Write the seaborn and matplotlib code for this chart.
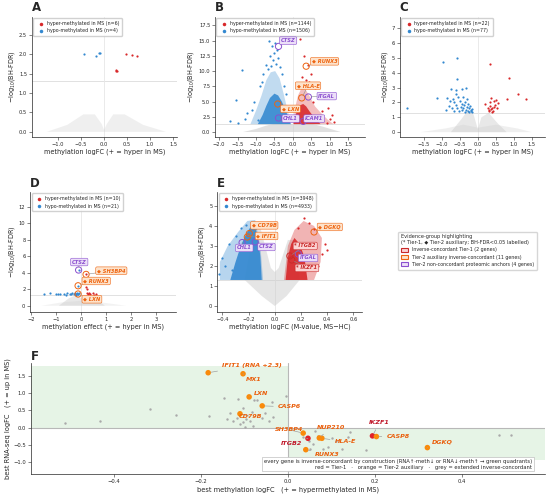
import matplotlib
matplotlib.use('Agg')
import matplotlib.pyplot as plt
from matplotlib.patches import Patch
import pandas as pd
import seaborn as sns

# ---------------- panel A ----------------
A_hyper_x = [0.48, 0.61, 0.72, 0.26, 0.28, 0.27]
A_hyper_y = [2.00, 1.98, 1.96, 1.57, 1.57, 1.58]
A_hypo_x = [-0.43, -0.17, -0.09, -0.10]
A_hypo_y = [2.00, 1.96, 2.03, 2.02]
A_grey_x = [-1.25, -0.8, -0.45, -0.2, -0.05, 0.0, 0.06, 0.2, 0.45, 0.85, 1.35]
A_grey_y = [0.0, 0.18, 0.45, 0.45, 0.2, 0.05, 0.2, 0.45, 0.45, 0.18, 0.0]

# ---------------- panel B ----------------
B_grey_x = [-1.35, -1.0, -0.75, -0.55, -0.3, -0.1, 0.0, 0.1, 0.3, 0.55, 0.8, 1.05, 1.3]
B_grey_y = [0.0, 0.5, 1.0, 1.3, 1.45, 1.45, 1.2, 1.45, 1.45, 1.3, 0.9, 0.45, 0.0]
B_hypo_core_x = [-0.95, -0.82, -0.72, -0.62, -0.5, -0.4, -0.3, -0.2, -0.12, -0.06]
B_hypo_core_y = [1.3, 2.8, 4.3, 5.6, 6.3, 6.0, 5.0, 3.6, 2.4, 1.3]
B_hypo_halo_x = [-1.15, -1.0, -0.85, -0.72, -0.6, -0.48, -0.36, -0.26, -0.16, -0.05]
B_hypo_halo_y = [1.3, 3.5, 6.0, 8.5, 9.8, 10.0, 8.8, 6.5, 4.0, 1.3]
B_hyper_core_x = [0.02, 0.06, 0.12, 0.2, 0.28, 0.36, 0.45, 0.55, 0.65, 0.75]
B_hyper_core_y = [1.3, 2.5, 3.6, 4.4, 4.6, 4.2, 3.4, 2.6, 1.9, 1.3]
B_hyper_halo_x = [0.0, 0.06, 0.14, 0.24, 0.34, 0.46, 0.6, 0.78, 0.95, 1.1]
B_hyper_halo_y = [1.3, 4.0, 6.0, 7.3, 7.0, 5.8, 4.2, 3.0, 2.0, 1.3]
B_hypo_x = [-1.7, -1.53, -1.38, -1.25, -1.12, -0.95, -1.05, -0.9, -0.8, -0.72, -0.66, -0.57, -0.48,
            -0.62, -0.55, -0.5, -0.45, -0.4, -0.35, -0.3, -0.68, -0.58, -0.42, -0.25, -0.2, -0.85, -1.3, -1.5]
B_hypo_y = [1.74, 5.3, 10.2, 3.1, 3.6, 2.0, 5.0, 7.5, 9.5, 11.0, 14.9, 14.1, 14.6,
            12.5, 11.8, 12.9, 11.2, 12.2, 10.6, 9.5, 10.4, 10.8, 13.5, 7.6, 6.3, 8.2, 2.2, 1.5]
B_hyper_x = [0.2, 0.3, 0.4, 0.5, 0.45, 0.6, 0.7, 0.85, 0.95, 1.05, 0.92, 1.12, 0.25, 0.15, 0.35, 0.55, 0.8, 1.0]
B_hyper_y = [15.2, 12.5, 11.0, 9.5, 8.2, 7.2, 6.0, 5.6, 4.0, 2.8, 1.5, 1.6, 9.0, 8.0, 8.6, 5.0, 3.4, 2.2]
B_genes = ['CTSZ', 'RUNX3', 'HLA-E', 'ITGAL', 'LXN', 'CHL1', 'ICAM1']
B_gene_x = [-0.39, 0.36, 0.24, 0.42, -0.41, -0.39, 0.28]
B_gene_y = [14.05, 10.8, 5.6, 5.75, 4.6, 2.3, 1.75]
B_groups = ['anchor', 'tier2', 'tier2', 'anchor', 'tier2', 'anchor', 'anchor']

# ---------------- panel C ----------------
C_grey_wide_x = [-1.6, -0.9, -0.4, 0.0, 0.5, 1.1, 1.5]
C_grey_wide_y = [0.0, 0.25, 0.5, 0.3, 0.5, 0.25, 0.0]
C_grey_x = [-0.75, -0.45, -0.3, -0.12, 0.0, 0.1, 0.3, 0.55, 0.8]
C_grey_y = [0.0, 0.9, 1.4, 1.2, 0.2, 1.0, 1.3, 0.6, 0.0]
C_hypo_x = [-1.97, -0.97, -0.59, -0.57, -1.13, -0.75, -0.62, -0.45, -0.33, -0.85, -0.78, -0.7, -0.65,
            -0.6, -0.55, -0.5, -0.48, -0.45, -0.42, -0.4, -0.38, -0.35, -0.33, -0.3, -0.28, -0.27, -0.25,
            -0.22, -0.2, -0.18, -0.16, -0.15, -0.72, -0.8, -0.88, -0.66, -0.52, -0.44, -0.36, -0.3, -0.24,
            -0.58, -0.62]
C_hypo_y = [1.62, 4.75, 5.02, 3.59, 2.29, 2.9, 2.85, 2.9, 2.95, 2.3, 2.1, 2.25, 2.0,
            1.85, 2.35, 2.1, 1.7, 1.9, 2.4, 1.6, 1.8, 2.0, 1.5, 1.7, 1.9, 1.45, 1.6,
            1.75, 1.5, 1.4, 1.55, 1.35, 1.6, 1.75, 1.5, 1.45, 1.4, 1.5, 1.38, 2.25, 1.35,
            1.65, 2.6]
C_hyper_x = [0.35, 0.86, 1.12, 1.33, 0.8, 0.2, 0.3, 0.33, 0.35, 0.38, 0.4, 0.42, 0.45, 0.48, 0.5,
             0.52, 0.3, 0.4, 0.36, 0.44, 0.55, 0.28]
C_hyper_y = [4.57, 3.67, 2.55, 2.24, 2.24, 1.9, 1.5, 1.75, 2.0, 2.3, 1.6, 1.45, 2.1, 1.85, 2.2,
             1.6, 1.4, 1.35, 1.55, 1.7, 1.95, 1.62]

# ---------------- panel D ----------------
D_grey_wide_x = [-1.6, -0.8, 0.0, 0.8, 1.8]
D_grey_wide_y = [0.0, 0.4, 0.6, 0.4, 0.0]
D_grey_x = [-0.9, -0.5, -0.2, 0.0, 0.25, 0.55, 0.95]
D_grey_y = [0.0, 0.9, 1.3, 0.9, 1.3, 0.9, 0.0]
D_hypo_x = [-1.5, -1.25, -1.0, -0.85, -0.7, -0.57, -0.45, -0.37, -0.3, -0.25, -0.2, -0.16, -0.13,
            -0.1, -0.11, -0.13, -0.13, -0.6, -0.95, -0.4, -0.22]
D_hypo_y = [1.45, 1.5, 1.42, 1.48, 1.4, 1.52, 1.45, 1.5, 1.38, 1.55, 1.45, 1.5, 1.42,
            1.6, 4.33, 2.42, 1.42, 1.35, 1.38, 1.4, 1.36]
D_hyper_x = [0.2, 0.23, 0.19, 0.25, 0.35, 0.45, 0.3, 0.6, 0.5, 0.22]
D_hyper_y = [2.3, 2.0, 3.8, 1.45, 1.4, 1.5, 1.6, 1.38, 1.35, 1.5]
D_genes = ['CTSZ', 'SH3BP4', 'RUNX3', 'LXN']
D_gene_x = [-0.11, 0.19, -0.13, -0.13]
D_gene_y = [4.33, 3.8, 2.42, 1.42]
D_groups = ['anchor', 'tier2', 'tier2', 'tier2']

# ---------------- panel E ----------------
E_grey_x = [0.0, -0.1, -0.23, -0.16, -0.11, -0.03, 0.0, 0.03, 0.1, 0.15, 0.19, 0.09, 0.0]
E_grey_y = [0.0, 0.5, 1.3, 3.9, 3.9, 1.9, 1.7, 1.9, 3.3, 3.3, 1.3, 0.5, 0.0]
E_hypo_core_x = [-0.34, -0.30, -0.26, -0.22, -0.18, -0.16, -0.13, -0.11, -0.10]
E_hypo_core_y = [1.3, 2.2, 3.0, 3.6, 4.0, 4.2, 3.45, 2.45, 1.3]
E_hypo_halo_x = [-0.42, -0.42, -0.36, -0.28, -0.21, -0.15, -0.11, -0.09]
E_hypo_halo_y = [1.3, 2.2, 3.0, 3.7, 4.25, 4.3, 3.0, 1.3]
E_hyper_core_x = [0.083, 0.10, 0.125, 0.15, 0.19, 0.226, 0.25]
E_hyper_core_y = [1.3, 2.45, 3.1, 3.4, 3.1, 2.45, 1.3]
E_hyper_halo_x = [0.07, 0.1, 0.15, 0.22, 0.3, 0.36, 0.35, 0.3]
E_hyper_halo_y = [1.3, 3.0, 3.8, 4.25, 4.0, 3.4, 2.2, 1.3]
E_hypo_x = [-0.43, -0.4, -0.38, -0.35, -0.3, -0.26, -0.22, -0.33]
E_hypo_y = [1.6, 2.4, 2.0, 3.1, 3.5, 3.9, 4.05, 1.8]
E_hyper_x = [0.22, 0.26, 0.3, 0.38, 0.36, 0.33, 0.4, 0.18]
E_hyper_y = [4.4, 4.15, 3.85, 3.1, 2.6, 2.0, 2.8, 3.9]
E_genes = ['CD79B', 'IFIT1', 'CHL1', 'CTSZ', 'DGKQ', 'ITGB2', 'ITGAL', 'IKZF1']
E_gene_x = [-0.195, -0.21, -0.25, -0.15, 0.30, 0.115, 0.18, 0.13]
E_gene_y = [3.62, 3.45, 3.17, 3.2, 3.7, 2.5, 2.6, 2.3]
E_groups = ['tier2', 'tier2', 'anchor', 'anchor', 'tier2', 'tier1', 'anchor', 'tier1']

# ---------------- panel F ----------------
F_names = ['IFIT1 (RNA +2.3)', 'MX1', 'LXN', 'CASP6', 'CD79B', 'SH3BP4', 'NUP210', 'HLA-E',
           'RUNX3', 'ITGB2', 'IKZF1', 'CASP8', 'DGKQ']
F_meth = [-0.183, -0.103, -0.089, -0.059, -0.11, 0.035, 0.072, 0.078, 0.041, 0.046, 0.194, 0.203, 0.32]
F_rna = [1.59, 1.56, 0.89, 0.63, 0.40, -0.16, -0.30, -0.31, -0.64, -0.31, -0.24, -0.26, -0.58]
F_tier = ['Tier-2', 'Tier-2', 'Tier-2', 'Tier-2', 'Tier-2', 'Tier-2', 'Tier-2', 'Tier-2',
          'Tier-2', 'Tier-1', 'Tier-1', 'Tier-2', 'Tier-2']
F_ext_meth = [-0.511, -0.432, -0.317, -0.256, -0.181, -0.146, -0.114, -0.078, -0.072, -0.102, -0.133,
              -0.140, -0.125, -0.117, -0.110, -0.104, -0.096, -0.087, -0.098, -0.079, -0.060, -0.053,
              -0.043, -0.037, -0.034, -0.083, -0.005,
              0.035, 0.049, 0.058, 0.069, 0.081, 0.092, 0.10, 0.111, 0.123, 0.142, 0.138, 0.18, 0.05,
              0.062, 0.485, 0.511]
F_ext_rna = [0.12, 0.20, 0.53, 0.36, 0.33, 0.87, 0.84, 0.80, 0.80, 0.58, 0.41,
             0.25, 0.18, 0.28, 0.10, 0.17, 0.25, 0.20, 0.03, 0.06, 0.28, 0.42,
             0.20, 0.73, 0.31, 0.46, 0.92,
             -0.26, -0.38, -0.47, -0.23, -0.62, -0.57, -0.30, -0.38, -0.62, -0.12, -0.28, -0.65, -0.62,
             -0.11, -0.21, -0.21]

# ---------------- styles ----------------
RED = '#d8282a'
BLUE = '#3388d0'
GREY = '#cccccc'
STYLE = {
    'tier1': ('#c92a2a', '#fbd3d3', '* '),
    'tier2': ('#ee6410', '#fde3cc', '\u25c6 '),
    'anchor': ('#8a4fcf', '#ecdff8', ''),
}

sns.set_style('ticks')
plt.rcParams['font.family'] = ['DejaVu Sans']
plt.rcParams['axes.linewidth'] = 0.5

fig = plt.figure(figsize=(5.5, 4.96), dpi=100)


def volcano(ax, letter, greys, clouds, hyper, hypo, n_hyper, n_hypo,
            xlabel, xlim, ylim, xticks, yticks):
    for gx, gy, a in greys:
        ax.fill(gx, gy, color=GREY, alpha=a, lw=0, zorder=1)
    for cx, cy, col, a in clouds:
        ax.fill(cx, cy, color=col, alpha=a, lw=0, zorder=2)
    sns.scatterplot(x=hyper[0], y=hyper[1], color=RED, s=2.5, linewidth=0, ax=ax, zorder=3,
                    label=f'hyper-methylated in MS (n={n_hyper})')
    sns.scatterplot(x=hypo[0], y=hypo[1], color=BLUE, s=2.5, linewidth=0, ax=ax, zorder=3,
                    label=f'hypo-methylated in MS (n={n_hypo})')
    ax.axhline(1.301, color='#dcdcdc', lw=0.6, zorder=0)
    ax.axvline(0, color='#e6e6e6', lw=0.6, zorder=0)
    ax.set_xlim(xlim)
    ax.set_ylim(ylim)
    ax.set_xticks(xticks)
    ax.set_yticks(yticks)
    ax.tick_params(labelsize=3.7, length=2, width=0.4, pad=1.5)
    ax.set_xlabel(xlabel, fontsize=4.7, labelpad=1.5)
    ax.set_ylabel('\u2212log$_{10}$(BH-FDR)', fontsize=4.7, labelpad=1.5)
    ax.legend(loc='upper left', fontsize=3.4, markerscale=1.6, handletextpad=0.2,
              borderpad=0.6, labelspacing=0.5, borderaxespad=0.3, framealpha=0.9, edgecolor='#cccccc')
    ax.text(0.0, 1.02, letter, transform=ax.transAxes, fontsize=8.5, fontweight='bold',
            ha='left', va='bottom')
    sns.despine(ax=ax)


def label_genes(ax, genes, xs, ys, groups, label_xy):
    for g, x, y, grp, (lx, ly) in zip(genes, xs, ys, groups, label_xy):
        col, fc, mark = STYLE[grp]
        ax.scatter([x], [y], s=20, facecolors='none', edgecolors=col, linewidths=0.7, zorder=6)
        ax.annotate(mark + g, xy=(x, y), xytext=(lx, ly), fontsize=3.7, fontweight='bold',
                    fontstyle='italic', color=col, ha='left', va='center', zorder=7,
                    bbox=dict(boxstyle='round,pad=0.25', fc=fc, ec=col, lw=0.4),
                    arrowprops=dict(arrowstyle='-', color='#8c8c8c', lw=0.4, shrinkA=0, shrinkB=2))


axA = fig.add_axes([0.058, 0.724, 0.264, 0.242])
axB = fig.add_axes([0.391, 0.724, 0.273, 0.242])
axC = fig.add_axes([0.727, 0.724, 0.264, 0.242])
axD = fig.add_axes([0.055, 0.371, 0.265, 0.242])
axE = fig.add_axes([0.395, 0.371, 0.264, 0.242])
axF = fig.add_axes([0.056, 0.044, 0.935, 0.224])

volcano(axA, 'A', [(A_grey_x, A_grey_y, 0.3)], [],
        (A_hyper_x, A_hyper_y), (A_hypo_x, A_hypo_y), 6, 4,
        'methylation logFC (+ = hyper in MS)', (-1.57, 1.59), (-0.13, 2.96),
        [-1.0, -0.5, 0.0, 0.5, 1.0, 1.5], [0.0, 0.5, 1.0, 1.5, 2.0, 2.5])

volcano(axB, 'B', [(B_grey_x, B_grey_y, 0.6)],
        [(B_hypo_halo_x, B_hypo_halo_y, BLUE, 0.3), (B_hypo_core_x, B_hypo_core_y, BLUE, 0.88),
         (B_hyper_halo_x, B_hyper_halo_y, RED, 0.3), (B_hyper_core_x, B_hyper_core_y, RED, 0.88)],
        (B_hyper_x, B_hyper_y), (B_hypo_x, B_hypo_y), 1144, 1506,
        'methylation logFC (+ = hyper in MS)', (-2.11, 1.96), (-0.8, 18.9),
        [-2.0, -1.5, -1.0, -0.5, 0.0, 0.5, 1.0, 1.5], [0.0, 2.5, 5.0, 7.5, 10.0, 12.5, 15.0, 17.5])
label_genes(axB, B_genes, B_gene_x, B_gene_y, B_groups,
            [(-0.33, 15.0), (0.51, 11.6), (0.10, 7.6), (0.69, 5.9), (-0.30, 3.8), (-0.26, 2.2), (0.33, 2.2)])

volcano(axC, 'C', [(C_grey_wide_x, C_grey_wide_y, 0.3), (C_grey_x, C_grey_y, 0.45)], [],
        (C_hyper_x, C_hyper_y), (C_hypo_x, C_hypo_y), 22, 77,
        'methylation logFC (+ = hyper in MS)', (-2.17, 1.87), (-0.32, 7.77),
        [-1.5, -1.0, -0.5, 0.0, 0.5, 1.0, 1.5], [0, 1, 2, 3, 4, 5, 6, 7])

volcano(axD, 'D', [(D_grey_wide_x, D_grey_wide_y, 0.25), (D_grey_x, D_grey_y, 0.45)], [],
        (D_hyper_x, D_hyper_y), (D_hypo_x, D_hypo_y), 10, 21,
        'methylation effect (+ = hyper in MS)', (-2.05, 3.8), (-0.76, 13.8),
        [-2, -1, 0, 1, 2, 3], [0, 2, 4, 6, 8, 10, 12])
label_genes(axD, D_genes, D_gene_x, D_gene_y, D_groups,
            [(-0.38, 5.3), (0.63, 4.25), (0.08, 3.0), (0.08, 0.78)])

volcano(axE, 'E', [(E_grey_x, E_grey_y, 0.5)],
        [(E_hypo_halo_x, E_hypo_halo_y, BLUE, 0.35), (E_hypo_core_x, E_hypo_core_y, BLUE, 0.9),
         (E_hyper_halo_x, E_hyper_halo_y, RED, 0.35), (E_hyper_core_x, E_hyper_core_y, RED, 0.9)],
        (E_hyper_x, E_hyper_y), (E_hypo_x, E_hypo_y), 3948, 4933,
        'methylation logFC (M-value, MS\u2212HC)', (-0.44, 0.67), (-0.3, 5.7),
        [-0.4, -0.2, 0.0, 0.2, 0.4, 0.6], [0, 1, 2, 3, 4, 5])
label_genes(axE, E_genes, E_gene_x, E_gene_y, E_groups,
            [(-0.176, 4.03), (-0.14, 3.5), (-0.29, 2.9), (-0.12, 2.95), (0.334, 3.95),
             (0.15, 3.0), (0.19, 2.4), (0.165, 1.9)])

# evidence legend
handles = [Patch(fc='#fbd3d3', ec='#c92a2a', lw=0.8),
           Patch(fc='#fde3cc', ec='#ee6410', lw=0.8),
           Patch(fc='#ecdff8', ec='#8a4fcf', lw=0.8)]
fig.legend(handles, ['Inverse-concordant Tier-1 (2 genes)',
                     'Tier-2 auxiliary inverse-concordant (11 genes)',
                     'Tier-2 non-concordant proteomic anchors (4 genes)'],
           title='Evidence-group highlighting\n(* Tier-1, \u25c6 Tier-2 auxiliary; BH-FDR<0.05 labelled)',
           loc='upper left', bbox_to_anchor=(0.72, 0.538), fontsize=3.45, title_fontsize=3.6,
           alignment='left', handlelength=1.5, handleheight=0.8, edgecolor='#cccccc', borderpad=0.6,
           labelspacing=0.45)

# ---------------- panel F ----------------
GREEN = '#e6f4e6'
axF.fill_between([-0.59, 0.0], 0.0, 1.79, color=GREEN, lw=0, zorder=0)
axF.fill_between([0.0, 0.59], -0.95, 0.0, color=GREEN, lw=0, zorder=0)
axF.axhline(0, color='#b8b8b8', lw=0.8, zorder=1)
axF.axvline(0, color='#b8b8b8', lw=0.8, zorder=1)
sns.scatterplot(x=F_ext_meth, y=F_ext_rna, color='#a9a9a9', s=3, linewidth=0, ax=axF, zorder=2)
dfF = pd.DataFrame({'name': F_names, 'meth': F_meth, 'rna': F_rna, 'tier': F_tier})
sns.scatterplot(data=dfF, x='meth', y='rna', hue='tier', palette={'Tier-1': '#e0202a', 'Tier-2': '#f98a0b'},
                s=16, linewidth=0, legend=False, ax=axF, zorder=4)
F_label_xy = [(-0.151, 1.81, 'left'), (-0.096, 1.38, 'left'), (-0.078, 1.0, 'left'), (-0.023, 0.6, 'left'),
              (-0.112, 0.32, 'left'), (0.034, -0.06, 'right'), (0.066, 0.0, 'left'), (0.107, -0.41, 'left'),
              (0.062, -0.78, 'left'), (0.032, -0.47, 'right'), (0.21, 0.14, 'center'), (0.226, -0.26, 'left'),
              (0.331, -0.41, 'left')]
for name, m, r, t, (lx, ly, ha) in zip(F_names, F_meth, F_rna, F_tier, F_label_xy):
    col = '#c0182a' if t == 'Tier-1' else '#ea5f0c'
    axF.annotate(name, xy=(m, r), xytext=(lx, ly), fontsize=4.6, fontweight='bold', fontstyle='italic',
                 color=col, ha=ha, va='center', zorder=5,
                 arrowprops=dict(arrowstyle='-', color='#a0a0a0', lw=0.5, shrinkA=1, shrinkB=2))
axF.text(0.975, 0.04,
         'every gene is inverse-concordant by construction (RNA\u2191\u00b7meth\u2193 or RNA\u2193\u00b7meth\u2191 \u2192 green quadrants)\n'
         'red = Tier-1   \u00b7   orange = Tier-2 auxiliary   \u00b7   grey = extended inverse-concordant',
         transform=axF.transAxes, ha='right', va='bottom', multialignment='right', fontsize=3.75,
         bbox=dict(boxstyle='square,pad=0.3', fc='white', ec='#c0c0c0', lw=0.5), zorder=8)
axF.set_xlim(-0.59, 0.59)
axF.set_ylim(-1.35, 1.87)
axF.set_xticks([-0.4, -0.2, 0.0, 0.2, 0.4])
axF.set_yticks([-1.0, -0.5, 0.0, 0.5, 1.0, 1.5])
axF.tick_params(labelsize=3.8, length=2, width=0.4, pad=1.5)
axF.set_xlabel('best methylation logFC   (+ = hypermethylated in MS)', fontsize=4.8, labelpad=1.5)
axF.set_ylabel('best RNA-seq logFC   (+ = up in MS)', fontsize=4.8, labelpad=1.5)
axF.text(0.0, 1.0, 'F', transform=axF.transAxes, fontsize=8.5, fontweight='bold', ha='left', va='bottom')
sns.despine(ax=axF)

fig.savefig('out.png', dpi=100)
